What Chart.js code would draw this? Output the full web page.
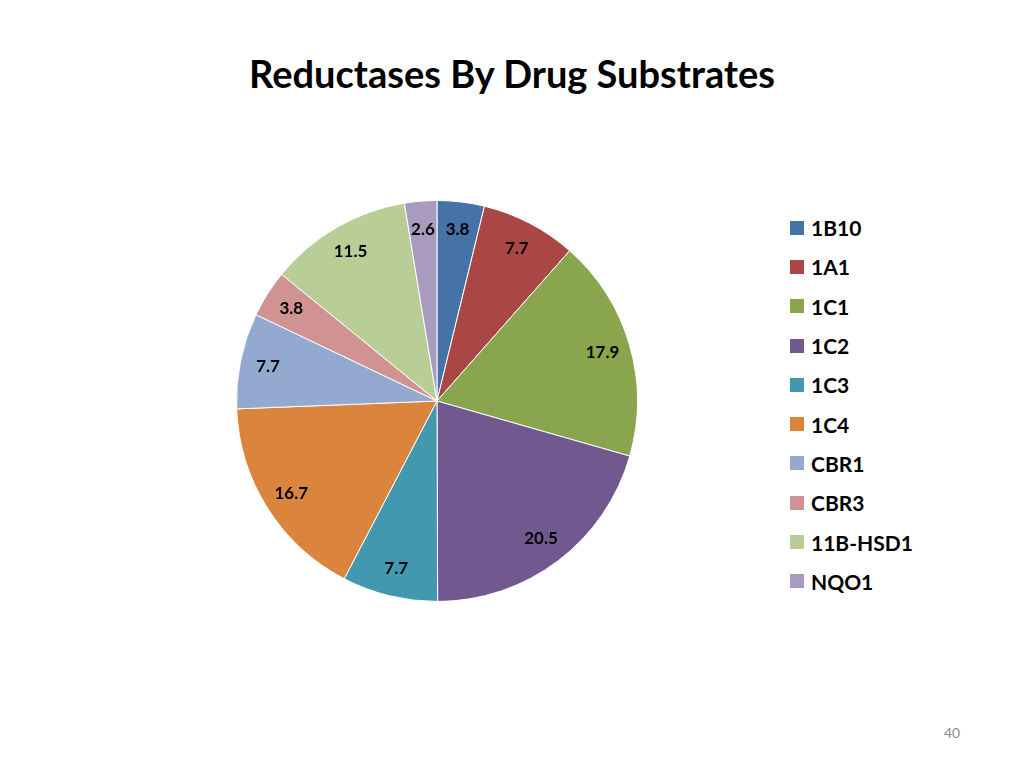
<!DOCTYPE html>
<html>
<head>
<meta charset="utf-8">
<script src="https://cdn.jsdelivr.net/npm/chart.js@4"></script>
<style>
  body { margin: 0; width: 1024px; height: 768px; background: #fff; font-family: Lato, "Open Sans", sans-serif; position: relative; overflow: hidden; }
  #titulo { position: absolute; top: 50px; left: 0; width: 1024px; text-align: center; font-size: 38px; font-weight: bold; color: #000; }
  #caja { position: absolute; left: 226px; top: 190px; width: 422px; height: 422px; }
  #leyenda { position: absolute; left: 790px; top: 208px; }
  .item { height: 39.3px; display: flex; align-items: center; font-size: 21px; font-weight: bold; color: #000; }
  .cuadro { width: 14px; height: 14px; margin-right: 7px; }
  #pagina { position: absolute; left: 944px; top: 724px; font-size: 14px; color: #8c8c8c; }
</style>
</head>
<body>
<div id="titulo">Reductases By Drug Substrates</div>
<div id="caja"><canvas id="pieChart"></canvas></div>
<div id="leyenda"></div>
<div id="pagina">40</div>
<script>
const categorias = ['1B10', '1A1', '1C1', '1C2', '1C3', '1C4', 'CBR1', 'CBR3', '11B-HSD1', 'NQO1'];
const valores = [3.8, 7.7, 17.9, 20.5, 7.7, 16.7, 7.7, 3.8, 11.5, 2.6];
const colores = ['#4572A7', '#AA4643', '#89A54E', '#71588F', '#4198AF', '#DB843D', '#93A9CF', '#D19392', '#B9CD96', '#A99BBD'];

// leyenda en HTML
const leyenda = document.getElementById('leyenda');
categorias.forEach((cat, i) => {
    const fila = document.createElement('div');
    fila.className = 'item';
    fila.innerHTML = `<span class="cuadro" style="background:${colores[i]}"></span>${cat}`;
    leyenda.appendChild(fila);
});

// etiquetas de valores sobre cada porción
const etiquetasPlugin = {
    id: 'etiquetas',
    afterDatasetsDraw(chart) {
        const ctx = chart.ctx;
        const meta = chart.getDatasetMeta(0);
        ctx.save();
        ctx.font = 'bold 17px Lato, "Open Sans", sans-serif';
        ctx.fillStyle = '#000';
        ctx.textAlign = 'center';
        ctx.textBaseline = 'middle';
        meta.data.forEach((arc, i) => {
            const ang = (arc.startAngle + arc.endAngle) / 2;
            const r = arc.outerRadius * 0.86;
            ctx.fillText(valores[i].toFixed(1), arc.x + Math.cos(ang) * r, arc.y + Math.sin(ang) * r);
        });
        ctx.restore();
    }
};

new Chart(document.getElementById('pieChart').getContext('2d'), {
    type: 'pie',
    data: {
        labels: categorias,
        datasets: [{
            data: valores,
            backgroundColor: colores,
            borderColor: '#ffffff',
            borderWidth: 1
        }]
    },
    options: {
        responsive: true,
        maintainAspectRatio: false,
        animation: false,
        layout: { padding: 10 },
        plugins: {
            legend: { display: false },
            tooltip: { enabled: false }
        }
    },
    plugins: [etiquetasPlugin]
});
</script>
</body>
</html>
